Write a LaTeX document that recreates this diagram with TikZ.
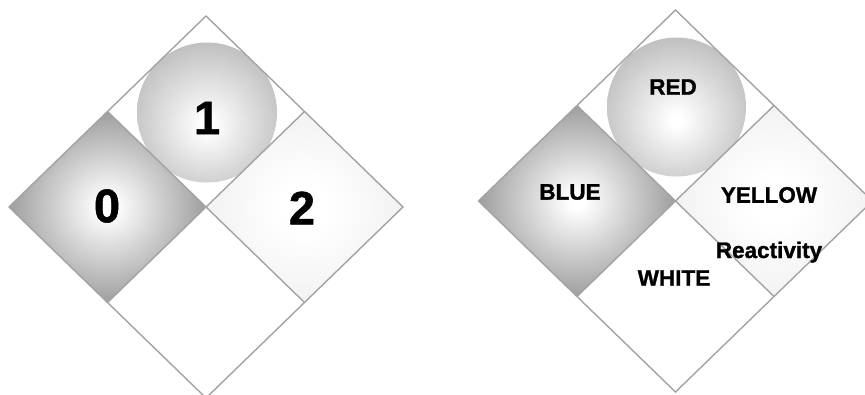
\documentclass[tikz,border=0pt]{standalone}
\usepackage{fontspec}
\setmainfont[BoldFeatures={FakeBold=1.2}]{Liberation Sans}
\usetikzlibrary{calc}
\definecolor{edgegray}{HTML}{A3A3A3}
\definecolor{bluegray}{HTML}{9A9A9A}
\definecolor{redgray}{HTML}{A4A4A4}
\definecolor{yelgray}{HTML}{ECECEC}
\pgfdeclareradialshading{blueshade}{\pgfpoint{0bp}{0bp}}{color(0bp)=(white); color(2bp)=(white); color(26bp)=(bluegray); color(80bp)=(bluegray)}
\pgfdeclareradialshading{redshade}{\pgfpoint{0bp}{-5bp}}{color(0bp)=(white); color(2bp)=(white); color(40bp)=(redgray); color(80bp)=(redgray)}
\pgfdeclareradialshading{yelshade}{\pgfpoint{0bp}{0bp}}{color(0bp)=(white); color(6bp)=(white); color(34bp)=(yelgray); color(80bp)=(yelgray)}
\tikzset{
  outline/.style={draw=edgegray, line width=1.4pt, line join=miter},
  bignum/.style={font=\fontsize{47}{47}\selectfont\bfseries, text=black, inner sep=0pt},
  word/.style={font=\fontsize{22.5}{22.5}\selectfont\bfseries, text=black, inner sep=0pt},
}
\begin{document}
\begin{tikzpicture}[x=1pt,y=-1pt]
\path[use as bounding box, fill=white] (0,0) rectangle (865,394);
% ---------- left diamond ----------
\coordinate (aC) at (206,207);
\coordinate (aT) at (206,16);
\coordinate (aL) at (9,207);
\coordinate (aR) at (403,207);
\coordinate (aB) at (206,398);
\coordinate (aML) at (107.5,111.5);
\coordinate (aMR) at (304.5,111.5);
\coordinate (aBL) at (107.5,302.5);
\coordinate (aBR) at (304.5,302.5);
\fill[white] (aT) -- (aR) -- (aB) -- (aL) -- cycle;
\shade[shading=blueshade] (aL) -- (aML) -- (aC) -- (aBL) -- cycle;
\shade[shading=yelshade] (aMR) -- (aR) -- (aBR) -- (aC) -- cycle;
\begin{scope}
  \clip (aT) -- (aMR) -- (aC) -- (aML) -- cycle;
  \shade[shading=redshade] (207,112.5) circle[radius=70];
\end{scope}
\draw[outline] (aT) -- (aR) -- (aB) -- (aL) -- cycle;
\draw[outline] (aML) -- (aC) -- (aMR);
\draw[outline] (aBL) -- (aC) -- (aBR);
\node[bignum] (n0) at (107,206) {0};
\node[bignum] (n1) at (207,118) {1};
\node[bignum] (n2) at (302,208) {2};
% ---------- right diamond ----------
\coordinate (bC) at (675.5,201);
\coordinate (bT) at (675.5,10);
\coordinate (bL) at (478.5,201);
\coordinate (bR) at (872.5,201);
\coordinate (bB) at (675.5,392);
\coordinate (bML) at (577,105.5);
\coordinate (bMR) at (774,105.5);
\coordinate (bBL) at (577,296.5);
\coordinate (bBR) at (774,296.5);
\fill[white] (bT) -- (bR) -- (bB) -- (bL) -- cycle;
\shade[shading=blueshade] (bL) -- (bML) -- (bC) -- (bBL) -- cycle;
\shade[shading=yelshade] (bMR) -- (bR) -- (bBR) -- (bC) -- cycle;
\begin{scope}
  \clip (bT) -- (bMR) -- (bC) -- (bML) -- cycle;
  \shade[shading=redshade] (676.5,107) circle[radius=69.5];
\end{scope}
\draw[outline] (bT) -- (bR) -- (bB) -- (bL) -- cycle;
\draw[outline] (bML) -- (bC) -- (bMR);
\draw[outline] (bBL) -- (bC) -- (bBR);
\node[word] (red) at (673,87) {RED};
\node[word] (blue) at (570,192) {BLUE};
\node[word] (yellow) at (769,195) {YELLOW};
\node[word, anchor=base] (react) at (769,258) {Reactivity};
\node[word] (white) at (674,278) {WHITE};
\end{tikzpicture}
\end{document}
